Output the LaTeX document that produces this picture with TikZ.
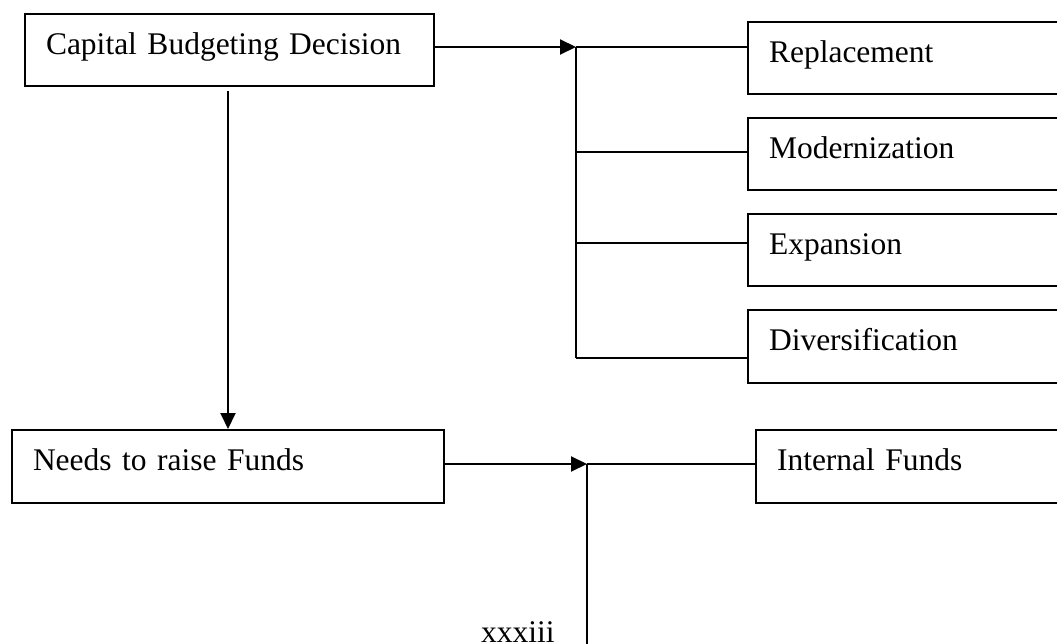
\documentclass[tikz,border=0pt]{standalone}
\usepackage{fontspec}
\setmainfont{Liberation Serif}
\usepackage{tikz}
\usetikzlibrary{arrows.meta, positioning, calc}

\begin{document}
\begin{tikzpicture}[x=1pt, y=-1pt, line width=2pt,
    every node/.style={font=\fontsize{31.5}{36}\selectfont},
    stage/.style={draw, anchor=north west, align=left, inner xsep=21pt, inner ysep=0pt, text height=40.5pt, text depth=32pt},
    flow/.style={-{Triangle[length=16pt, width=15pt]}}]
    \useasboundingbox (0,0) rectangle (1057,644);
    % 左列：决策与筹资
    \node[stage, text width=367pt] (cbd) at (24,13) {Capital Budgeting Decision};
    \node[stage, text width=390pt] (need) at (11,429) {Needs to raise Funds};
    % 右列：投资类型
    \node[stage, text width=281pt] (rep) at (747,21) {Replacement};
    \node[stage, text width=281pt] (mod) at (747,117) {Modernization};
    \node[stage, text width=281pt] (exp) at (747,213) {Expansion};
    \node[stage, text width=281pt] (div) at (747,309) {Diversification};
    \node[stage, text width=273pt] (int) at (755,429) {Internal Funds};
    \node[anchor=base west, inner sep=0pt] (pg) at (480,642) {xxxiii};

    % 分支总线
    \coordinate (b1) at (576,47);
    \coordinate (b2) at (576,152);
    \coordinate (b3) at (576,243);
    \coordinate (b4) at (576,358);
    \draw[flow] (cbd.east |- b1) -- (b1);
    \draw (b1) -- (b4);
    \foreach \b/\n in {b1/rep, b2/mod, b3/exp, b4/div}
        \draw (\b) -- (\b -| \n.west);
    \draw[flow] ($(cbd.south -| need.north)+(0,4)$) -- (need.north);

    \coordinate (c1) at (587,464);
    \coordinate (c2) at (587,650);
    \draw[flow] (need.east |- c1) -- (c1);
    \draw (c1) -- (c1 -| int.west);
    \draw (c1) -- (c2);
\end{tikzpicture}
\end{document}
